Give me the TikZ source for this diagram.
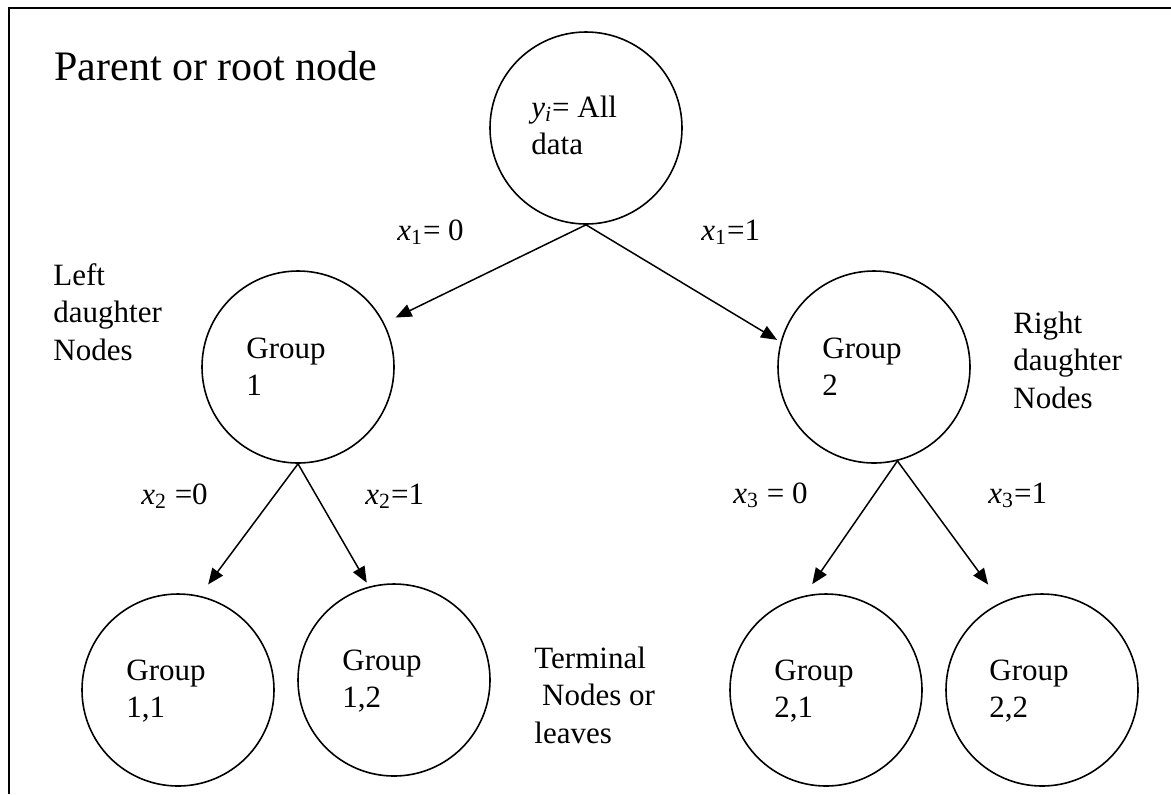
\documentclass[tikz,border=0pt]{standalone}
\usepackage{fontspec}
\setmainfont{Liberation Serif}
\usetikzlibrary{arrows.meta}
\newcommand{\mylines}[1]{\begin{tabular}[t]{@{}l@{}}#1\end{tabular}}
\begin{document}
\begin{tikzpicture}[x=0.5pt,y=-0.5pt,
  circ/.style={draw, circle, minimum size=96pt, inner sep=0pt, line width=0.8pt},
  lbl/.style={anchor=base west, inner sep=0pt, font=\fontsize{15.5}{18.75}\selectfont},
  ttl/.style={anchor=base west, inner sep=0pt, font=\fontsize{21}{25}\selectfont},
  conn/.style={line width=0.75pt, -{Triangle[length=8pt,width=6.5pt]}},
  framestyle/.style={line width=1.2pt}]
\useasboundingbox (0,0) rectangle (1171,794);
\draw[framestyle] (9,794) -- (9,8) -- (1171,8);

% circles
\node[circ] (root) at (586,128) {};
\node[circ] (g1) at (298,367) {};
\node[circ] (g2) at (874,367) {};
\node[circ] (g11) at (178,690) {};
\node[circ] (g12) at (394,680) {};
\node[circ] (g21) at (826,690) {};
\node[circ] (g22) at (1042,690) {};

% texts in circles
\node[lbl] (rootT) at (531,117) {\mylines{\textit{y}\textsubscript{\textit{i}}= All\\data}};
\node[lbl] (g1T) at (246,358) {\mylines{Group\\1}};
\node[lbl] (g2T) at (822,358) {\mylines{Group\\2}};
\node[lbl] (g11T) at (126,680) {\mylines{Group\\1,1}};
\node[lbl] (g12T) at (342,670) {\mylines{Group\\1,2}};
\node[lbl] (g21T) at (774,680) {\mylines{Group\\2,1}};
\node[lbl] (g22T) at (989,680) {\mylines{Group\\2,2}};

% side labels
\node[ttl] (parentT) at (54,80) {Parent or root node};
\node[lbl] (leftT) at (53,285) {\mylines{Left\\daughter\\Nodes}};
\node[lbl] (rightT) at (1013,333) {\mylines{Right\\daughter\\Nodes}};
\node[lbl] (termT) at (534,668) {\mylines{Terminal\\\hspace{0.25em}Nodes or\\leaves}};

% edge labels
\node[lbl] (e1) at (397,240) {\textit{x}\textsubscript{1}= 0};
\node[lbl] (e2) at (701,240) {\textit{x}\textsubscript{1}=1};
\node[lbl] (e3) at (141,504) {\textit{x}\textsubscript{2} =0};
\node[lbl] (e4) at (365,504) {\textit{x}\textsubscript{2}=1};
\node[lbl] (e5) at (733,503) {\textit{x}\textsubscript{3} = 0};
\node[lbl] (e6) at (988,503) {\textit{x}\textsubscript{3}=1};

% connectors
\draw[conn, shorten >=6.3pt] (root.south) -- (g1.27);
\draw[conn, shorten >=2pt] (root.south) -- (g2.165.5);
\draw[conn, shorten >=7pt] (g1.south) -- (g11.77);
\draw[conn, shorten >=2.2pt] (g1.south) -- (g12.105);
\draw[conn, shorten >=7pt] (g2.-76) -- (g21.103);
\draw[conn, shorten >=11pt] (g2.-76) -- (g22.115);
\end{tikzpicture}
\end{document}
